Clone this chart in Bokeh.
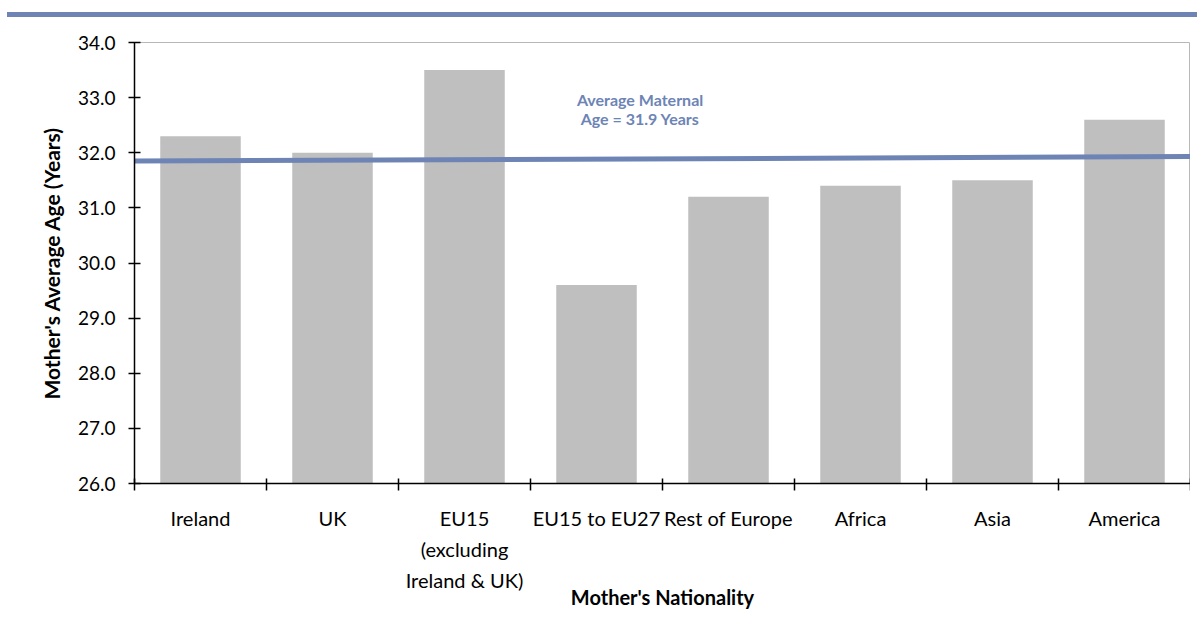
from bokeh.plotting import figure
from bokeh.models import FixedTicker, ColumnDataSource, Div, Range1d, NumeralTickFormatter
from bokeh.layouts import column
from bokeh.embed import file_html
from bokeh.resources import INLINE
from bokeh.core.properties import value

categories = ["Ireland", "UK", "EU15\n(excluding\nIreland & UK)", "EU15 to EU27",
              "Rest of Europe", "Africa", "Asia", "America"]
ages = [32.3, 32.0, 33.5, 29.6, 31.2, 31.4, 31.5, 32.6]
avg_line_ends = [31.85, 31.93]
avg_label = "Average Maternal\nAge = 31.9 Years"
avg_label_pos = [3.83, 32.8]
y_ticks = [26, 27, 28, 29, 30, 31, 32, 33, 34]

BLUE = "#6d84b5"
FONT = "Lato"

n = len(categories)
centers = [i + 0.5 for i in range(n)]
src = ColumnDataSource(dict(x=centers, top=ages))

p = figure(frame_width=1056, frame_height=441, output_backend="svg", toolbar_location=None,
           x_range=Range1d(0, n), y_range=Range1d(26, 34),
           min_border_left=134, min_border_right=0, min_border_top=21, min_border_bottom=125)
p.outline_line_color = "#b8b8b8"
p.outline_line_width = 1
p.xgrid.visible = False
p.ygrid.visible = False

p.vbar(x="x", top="top", bottom=26, width=0.61, source=src,
       fill_color="#bfbfbf", line_color=None)

p.line(x=[0, n], y=avg_line_ends, line_color=BLUE, line_width=5)

p.text(x=[avg_label_pos[0]], y=[avg_label_pos[1]], text=[avg_label],
       text_font=value(FONT), text_font_style="bold", text_font_size="16px",
       text_color=BLUE, text_align="center", text_baseline="middle",
       text_line_height=1.0)

# x axis
xa = p.xaxis[0]
xa.ticker = FixedTicker(ticks=centers, minor_ticks=list(range(n + 1)))
xa.major_label_overrides = {c: lab for c, lab in zip(centers, categories)}
xa.major_tick_in = 0
xa.major_tick_out = 0
xa.minor_tick_in = 5
xa.minor_tick_out = 7
xa.minor_tick_line_color = "black"
xa.minor_tick_line_width = 1.5
xa.axis_line_color = "black"
xa.axis_line_width = 1.5
xa.major_label_standoff = 15
xa.major_label_text_font = FONT
xa.major_label_text_font_size = "20px"
xa.major_label_text_color = "black"
xa.major_label_text_line_height = 1.3
xa.axis_label = "Mother's Nationality"
xa.axis_label_text_font = FONT
xa.axis_label_text_font_style = "bold"
xa.axis_label_text_font_size = "20px"
xa.axis_label_text_color = "black"
xa.axis_label_standoff = -10

# y axis
ya = p.yaxis[0]
ya.ticker = FixedTicker(ticks=y_ticks, minor_ticks=[])
ya.formatter = NumeralTickFormatter(format="0.0")
ya.major_tick_in = 6
ya.major_tick_out = 6
ya.minor_tick_in = 0
ya.minor_tick_out = 0
ya.major_tick_line_color = "black"
ya.major_tick_line_width = 1.5
ya.axis_line_color = "black"
ya.axis_line_width = 1.5
ya.major_label_standoff = 13
ya.major_label_text_font = FONT
ya.major_label_text_font_size = "19px"
ya.major_label_text_color = "black"
ya.axis_label = "Mother's Average Age (Years)"
ya.axis_label_text_font = FONT
ya.axis_label_text_font_style = "bold"
ya.axis_label_text_font_size = "21px"
ya.axis_label_text_color = "black"
ya.axis_label_standoff = 11

top_bar = Div(text='<div style="margin-top:6px;margin-left:2px;height:5px;background:%s;width:1190px"></div>' % BLUE,
              width=1184, height=11)

layout = column(top_bar, p, spacing=0)
open("out.html", "w").write(file_html(layout, INLINE))
